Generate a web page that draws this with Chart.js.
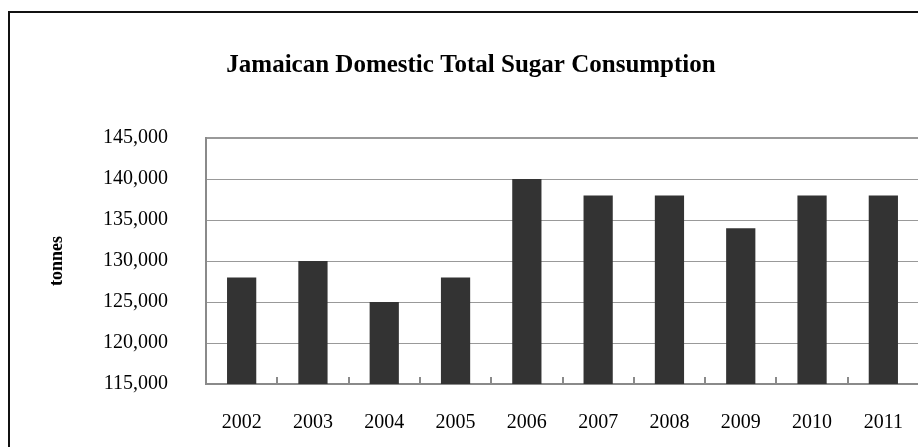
<!DOCTYPE html>
<html>
<head>
<meta charset="utf-8">
<script src="https://cdn.jsdelivr.net/npm/chart.js@4.4.1/dist/chart.umd.min.js"></script>
<style>
  html, body { margin: 0; padding: 0; background: #fff; overflow: hidden; }
  #frame {
    position: absolute; left: 8px; top: 11px;
    border: 2px solid #111;
    width: 940px; height: 470px;
  }
  #box { position: relative; width: 922px; height: 450px; }
</style>
</head>
<body>
<div id="frame">
  <div id="box"><canvas id="myChart"></canvas></div>
</div>
<script>
const years = ['2002', '2003', '2004', '2005', '2006', '2007', '2008', '2009', '2010', '2011'];
const consumption = [128000, 130000, 125000, 128000, 140000, 138000, 138000, 134000, 138000, 138000];
const yTicks = [115000, 120000, 125000, 130000, 135000, 140000, 145000];

const serif = "'Liberation Serif', 'Times New Roman', serif";

const data = {
    labels: years,
    datasets: [{
        label: 'tonnes',
        data: consumption,
        backgroundColor: '#333333',
        borderWidth: 0,
        categoryPercentage: 1,
        barPercentage: 0.41
    }]
};

const config = {
    type: 'bar',
    data,
    options: {
        responsive: true,
        maintainAspectRatio: false,
        animation: false,
        layout: { padding: 0 },
        scales: {
            x: {
                grid: {
                    offset: true,
                    drawOnChartArea: false,
                    drawTicks: true,
                    tickLength: -7,
                    color: '#8a8a8a',
                    lineWidth: 2
                },
                border: { display: true, color: '#8a8a8a', width: 2 },
                // tall line height pushes the year labels down without tick padding
                ticks: {
                    padding: 0,
                    color: '#000',
                    font: { family: serif, size: 20, lineHeight: 4.6 }
                },
                afterFit: s => { s.height = 79; }
            },
            y: {
                min: yTicks[0],
                max: yTicks[yTicks.length - 1],
                afterBuildTicks: s => { s.ticks = yTicks.map(v => ({ value: v })); },
                grid: {
                    drawTicks: false,
                    color: '#999999',
                    lineWidth: ctx => (ctx.tick && ctx.tick.value === 145000 ? 2 : 1)
                },
                border: { display: true, color: '#8a8a8a', width: 2 },
                ticks: {
                    padding: 38,
                    color: '#000',
                    font: { family: serif, size: 20 },
                    callback: v => v.toLocaleString('en-US')
                },
                title: {
                    display: true,
                    text: 'tonnes',
                    color: '#000',
                    font: { family: serif, size: 18, weight: 'bold' },
                    padding: { top: 37, bottom: 0 }
                },
                afterFit: s => { s.width = 196; }
            },
            // blank strip on the right so the plot stops short of the canvas edge
            y2: {
                position: 'right',
                grid: { display: false, drawTicks: false },
                border: { display: false },
                ticks: { display: false, padding: 0 },
                afterFit: s => { s.width = 13; }
            }
        },
        plugins: {
            legend: { display: false },
            tooltip: { enabled: false },
            title: {
                display: true,
                text: 'Jamaican Domestic Total Sugar Consumption',
                color: '#000',
                font: { family: serif, size: 25, weight: 'bold' },
                padding: { top: 38, bottom: 57 }
            }
        }
    }
};

const myChart = new Chart(document.getElementById('myChart'), config);
</script>
</body>
</html>
